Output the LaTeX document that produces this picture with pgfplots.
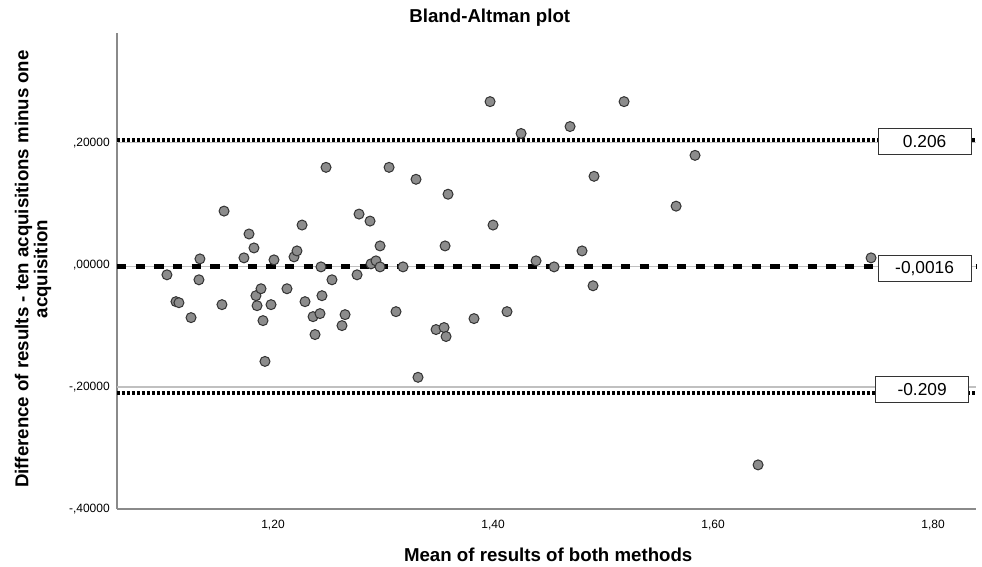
\documentclass[border=0pt]{standalone}
\usepackage{fontspec}
\setmainfont{Liberation Sans}
\usepackage{pgfplots}
\pgfplotsset{compat=1.18}

\definecolor{ptfill}{HTML}{8C8C8C}
\definecolor{ptedge}{HTML}{333333}
\definecolor{axgray}{HTML}{8A8A8A}
\definecolor{refgray}{HTML}{C0C0C0}

% mean of both methods vs difference (ten minus one acquisition)
\pgfplotstableread{
x y
1.1036 -0.0155
1.1118 -0.0596
1.1145 -0.0613
1.1255 -0.0858
1.1327 -0.0237
1.1336 0.0106
1.1536 -0.0645
1.1555 0.0891
1.1736 0.0123
1.1782 0.0515
1.1827 0.0286
1.1845 -0.0498
1.1855 -0.0662
1.1891 -0.0384
1.1909 -0.0907
1.1927 -0.1577
1.1982 -0.0645
1.2009 0.0090
1.2127 -0.0384
1.2191 0.0139
1.2218 0.0237
1.2264 0.0662
1.2291 -0.0596
1.2364 -0.0842
1.2382 -0.1136
1.2427 -0.0792
1.2436 -0.0025
1.2445 -0.0498
1.2482 0.1609
1.2536 -0.0237
1.2627 -0.0989
1.2655 -0.0809
1.2764 -0.0155
1.2782 0.0842
1.2882 0.0727
1.2891 0.0025
1.2936 0.0074
1.2973 0.0319
1.2973 -0.0025
1.3055 0.1609
1.3118 -0.0760
1.3182 -0.0025
1.3300 0.1413
1.3318 -0.1838
1.3482 -0.1054
1.3555 -0.1021
1.3573 -0.1168
1.3564 0.0319
1.3591 0.1168
1.3827 -0.0874
1.3973 0.2688
1.4000 0.0662
1.4127 -0.0760
1.4255 0.2165
1.4391 0.0074
1.4555 -0.0025
1.4700 0.2279
1.4809 0.0237
1.4909 -0.0335
1.4918 0.1462
1.5191 0.2688
1.5664 0.0972
1.5836 0.1806
1.6409 -0.3276
1.7436 0.0123
}\ba

\begin{document}
\begin{tikzpicture}
\useasboundingbox (-87.75pt,-43.5pt) rectangle (648.75pt,381.75pt);
\begin{axis}[
    at={(0,0)}, anchor=south west,
    scale only axis,
    width=644.25pt, height=357pt,
    xmin=1.0582, xmax=1.839,
    ymin=-0.4, ymax=0.3815,
    axis x line=bottom, axis y line=left,
    axis line style={-, axgray, line width=1.2pt},
    major tick length=0pt,
    xtick={1.2,1.4,1.6,1.8},
    xticklabels={{1,20},{1,40},{1,60},{1,80}},
    ytick={-0.4,-0.2,0,0.2},
    yticklabels={{-,40000},{-,20000},{,00000},{,20000}},
    tick label style={font=\fontsize{9}{10}\selectfont, text=black},
    xticklabel style={inner sep=0pt, anchor=north, yshift=-8pt},
    yticklabel style={inner sep=0pt, anchor=east, xshift=-5.25pt},
    xlabel={Mean of results of both methods},
    xlabel style={at={(rel axis cs:0.502,0)}, anchor=center, yshift=-34.5pt,
        font=\fontsize{14}{16}\selectfont\bfseries},
    ylabel={Difference of results - ten acquisitions minus one\\acquisition},
    ylabel style={at={(rel axis cs:0,0.504)}, anchor=center, rotate=0,
        xshift=0pt, align=center, font=\fontsize{14}{14.3}\selectfont\bfseries},
    every axis y label/.append style={yshift=63pt},
    clip=false,
]
\addplot[only marks, mark=*, mark size=3.75pt,
    mark options={fill=ptfill, draw=ptedge, line width=0.75pt}] table {\ba};

% thin reference lines
\addplot[refgray, line width=1.1pt] coordinates {(1.0582,0.202) (1.839,0.202)};
\addplot[refgray, line width=1.1pt] coordinates {(1.0582,-0.0016) (1.839,-0.0016)};
\addplot[refgray, line width=1.1pt] coordinates {(1.0582,-0.200) (1.839,-0.200)};

% limits of agreement and mean difference
\addplot[black, line width=3pt, dash pattern=on 2.25pt off 1.5pt] coordinates {(1.0582,0.206) (1.839,0.206)};
\addplot[black, line width=3pt, dash pattern=on 2.25pt off 1.5pt] coordinates {(1.0582,-0.209) (1.839,-0.209)};
\addplot[black, line width=3.3pt, dash pattern=on 7pt off 7pt] coordinates {(1.0582,-0.0016) (1.839,-0.0016)};

\node[draw=ptedge, fill=white, line width=0.75pt, minimum width=69.75pt, minimum height=19.5pt,
    inner sep=0pt, font=\fontsize{13}{14}\selectfont] at (axis cs:1.7923,0.2030) {0.206};
\node[draw=ptedge, fill=white, line width=0.75pt, minimum width=69.75pt, minimum height=19.5pt,
    inner sep=0pt, font=\fontsize{13}{14}\selectfont] at (axis cs:1.7923,-0.0049) {-0,0016};
\node[draw=ptedge, fill=white, line width=0.75pt, minimum width=69.75pt, minimum height=19.5pt,
    inner sep=0pt, font=\fontsize{13}{14}\selectfont] at (axis cs:1.7900,-0.2034) {-0.209};

\node[font=\fontsize{14}{16}\selectfont\bfseries] at (rel axis cs:0.434,1) [yshift=11.25pt] {Bland-Altman plot};
\end{axis}
\end{tikzpicture}
\end{document}
